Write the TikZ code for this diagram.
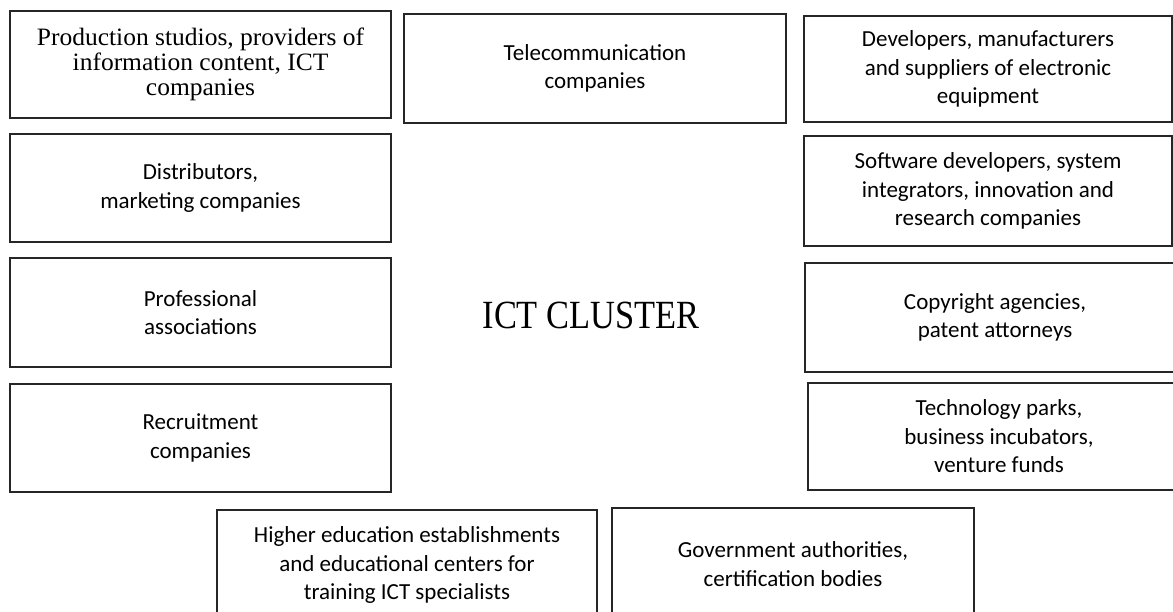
\documentclass[tikz,border=0pt]{standalone}
\usepackage{fontspec}
\setmainfont{Carlito}
\newfontfamily\serifA[FakeStretch=1.02]{Liberation Serif}
\newfontfamily\serifB[FakeStretch=0.86]{Liberation Serif}
\newcommand\mybox[7][]{%
  \node[box, #1, minimum width={(#5-#3)*1pt}, minimum height={(#6-#4)*1pt}]
    (#2) at ({(#3+#5)/2},{(#4+#6)/2}) {#7};}
\begin{document}
\begin{tikzpicture}[x=1pt,y=-1pt,
  box/.style={draw=black!85, line width=1.1pt, inner sep=0pt, align=center,
    font=\fontsize{23}{28.5}\selectfont},
  serifbox/.style={font=\serifA\fontsize{25}{25}\selectfont},
  title/.style={font=\serifB\fontsize{40}{48}\selectfont, inner sep=0pt}]
\useasboundingbox (0,0) rectangle (1173,612);
\clip (0,0) rectangle (1173,612);
\fill[white] (0,0) rectangle (1173,612);
\mybox[serifbox]{prod}{10}{11}{391}{118}{Production studios, providers of\\information content, ICT\\companies}
\mybox{telecom}{404}{14}{786}{123}{Telecommunication\\companies}
\mybox{dev}{804}{16}{1172}{122}{Developers, manufacturers\\and suppliers of electronic\\equipment}
\mybox{soft}{804}{136}{1172}{246}{Software developers, system\\integrators, innovation and\\research companies}
\mybox{dist}{10}{134}{391}{242}{Distributors,\\marketing companies}
\mybox{prof}{10}{258}{391}{367}{Professional\\associations}
\mybox{recr}{10}{384}{391}{492}{Recruitment\\companies}
\mybox{copy}{805}{263}{1185}{372}{Copyright agencies,\\patent attorneys}
\mybox{tech}{808}{383}{1190}{490}{Technology parks,\\business incubators,\\venture funds}
\mybox{higher}{217}{510}{597}{620}{Higher education establishments\\and educational centers for\\training ICT specialists}
\mybox{gov}{612}{508}{974}{620}{Government authorities,\\certification bodies}
\node[title, anchor=base] (cluster) at (591,329) {ICT CLUSTER};
\end{tikzpicture}
\end{document}
